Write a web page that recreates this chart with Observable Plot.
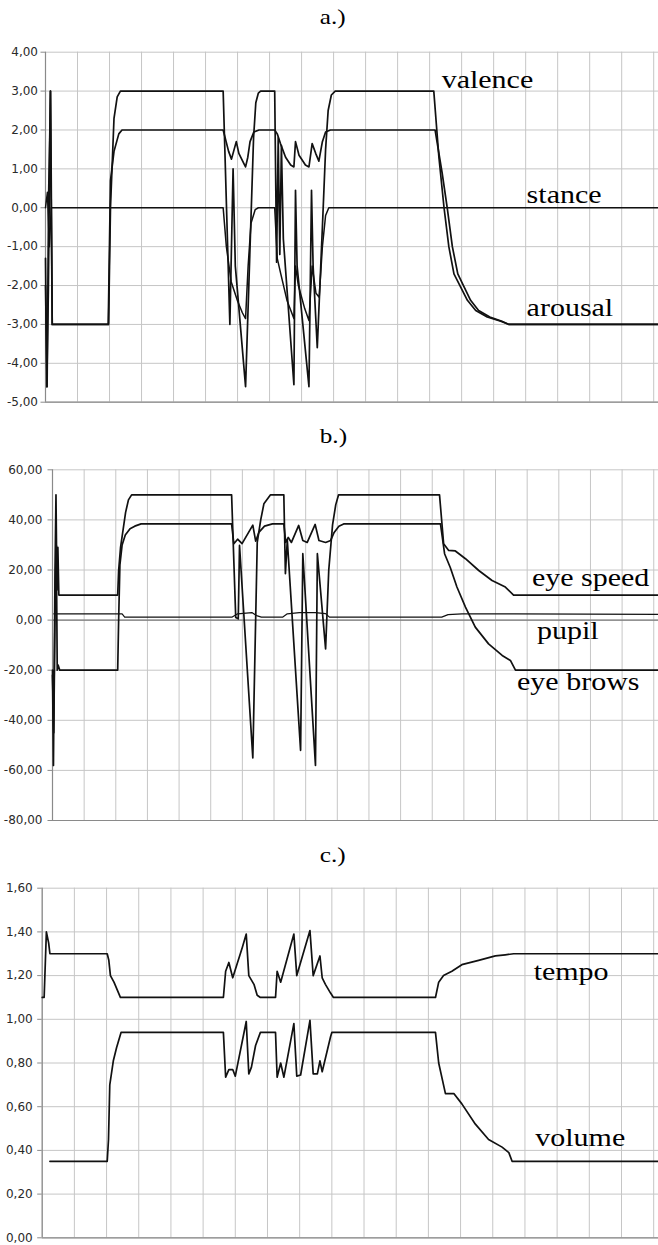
<!DOCTYPE html>
<html><head><meta charset="utf-8">
<script src="https://cdn.jsdelivr.net/npm/d3@7"></script>
<script src="https://cdn.jsdelivr.net/npm/@observablehq/plot@0.6"></script>
<style>
html,body{margin:0;padding:0;background:#fff;}
#root{position:relative;width:658px;height:1245px;overflow:hidden;background:#fff;}
.title{position:absolute;left:4px;width:658px;text-align:center;font-family:"Liberation Serif",serif;font-size:21px;line-height:21px;color:#000;}
.title span{display:inline-block;transform:scaleX(1.2);}
.panel{position:absolute;left:0;}
</style></head><body><div id="root"></div>
<script>
// ---------- shared ----------
const xGrid = [0,10,20,30,40,50,60,70,80,90,100,110,120,130,140,150,160,170,180,190];
const xDomain = [0, 191.5];

// ---------- panel a ----------
const aTicks = [-5,-4,-3,-2,-1,0,1,2,3,4];
const valenceT = [0,0.5,1.0,1.6,2.1,19.7,20.3,21.4,22.4,23.4,55.5,57.6,58.6,59.3,62.5,65.0,65.7,66.5,67.2,71.6,72.2,72.7,73.2,73.7,74.3,77.6,78.1,78.6,82.3,83.1,83.6,84.9,86.5,87.5,88.3,89.3,90.5,121.3,122.9,124.5,126.0,127.6,129.7,131.8,134.4,138.0,142.2,144.8,191.5];
const valenceV = [-2.0,-4.6,0.45,3.0,-3.0,-3.0,0.0,2.3,2.85,3.0,3.0,-3.0,1.0,-1.5,-4.6,1.8,2.7,2.95,3.0,3.0,-1.4,1.8,-1.2,1.6,-0.8,-4.55,0.45,-1.5,-4.6,0.45,-1.5,-3.6,-0.5,1.5,2.5,2.9,3.0,3.0,1.3,0.0,-1.0,-1.7,-2.04,-2.38,-2.64,-2.81,-2.92,-3.0,-3.0];
const arousalT = [0,0.4,0.9,1.5,2.1,19.6,20.3,21.4,22.9,23.9,55.5,57.2,58.1,59.6,60.4,61.9,62.5,63.2,63.9,65.1,66.7,71.6,72.4,73.4,75.0,76.6,77.6,78.1,79.2,81.2,82.3,83.3,84.4,85.4,86.5,87.5,89.0,121.7,123.9,125.5,127.1,128.8,130.8,132.8,135.3,138.8,142.6,144.8,191.5];
const arousalV = [-1.3,-4.6,-2.1,3.0,-3.0,-3.0,0.7,1.45,1.9,2.0,2.0,1.45,1.25,1.7,1.4,1.15,1.05,1.3,1.7,1.95,2.0,2.0,1.9,1.65,1.3,1.1,1.05,1.7,1.35,1.1,1.05,1.65,1.4,1.2,1.7,1.95,2.0,2.0,0.9,0.0,-1.0,-1.7,-2.04,-2.38,-2.64,-2.81,-2.92,-3.0,-3.0];
const stanceT = [0,0.6,1.2,1.8,55.5,56.5,58.0,60.0,61.5,62.5,63.3,64.2,65.5,66.5,71.6,72.4,73.5,75.5,77.6,78.1,79.0,81.0,82.3,83.3,84.5,85.5,86.5,87.5,88.5,191.5];
const stanceV = [0,0.4,-1.0,0,0,-1.0,-1.9,-2.4,-2.7,-2.85,-1.5,-0.4,-0.05,0,0,-1.3,-1.7,-2.4,-2.85,-1.5,-2.0,-2.6,-2.9,-1.5,-2.2,-2.3,-1.0,-0.2,0,0];
const aLabels = ["valence","stance","arousal"];
const aLabelX = [123.75,150.3,150.3];
const aLabelY = [3.07,0.11,-2.79];

// ---------- panel b ----------
const bTicks = [-80,-60,-40,-20,0,20,40,60];
const eyeSpeedT = [0,0.3,0.8,1.1,1.4,1.7,2.0,20.6,20.9,21.5,23.1,24.0,25.0,56.6,57.9,58.7,59.1,63.3,64.7,65.8,66.8,68.9,73.1,73.6,74.2,78.4,79.1,83.1,83.7,86.3,87.3,88.5,89.5,90.4,122.3,123.6,125.2,127.3,130.5,134.7,138.9,143.1,145.7,191.5];
const eyeSpeedV = [-20,-58,20,50,12,29,10,10,19.8,29,43,48,50,50,1,0.5,29.8,-55,31,40,46.4,50,50,18.5,32,-52,26.5,-58,26.5,-11.5,20,38,46,50,50,30.5,27.8,27.6,24.5,19.8,15.8,13.2,10,10];
const eyeBrowsT = [0,0.4,0.9,1.2,1.5,1.8,2.3,20.6,20.9,21.3,22.0,23.0,24.5,26.0,28.0,56.6,57.3,58.5,59.9,63.3,64.2,65.2,67.0,69.5,73.1,73.7,74.5,75.5,77.8,79.1,80.5,83.0,84.2,86.3,87.9,89.0,90.5,92.0,122.6,123.9,125.7,127.8,130.5,133.6,137.8,142.1,144.7,146.3,191.5];
const eyeBrowsV = [-22,-45,15,30,-20,-18,-20,-20,0,22,30,34,36.5,37.5,38.4,38.4,30.5,32.3,30.5,37.9,31.5,35,37.5,38.4,38.4,31,33,31,37.8,31.8,31,38.2,31.8,31,31.8,35,37.5,38.4,38.4,26.5,21,13.2,5.2,-2.8,-9.5,-14.1,-16.1,-20,-20];
const pupilT = [0.4,22.0,22.8,56.8,58.5,63.0,64.5,66.0,72.8,74.2,78.0,83.0,86.3,87.5,123.0,125.0,129.4,146.0,191.5];
const pupilV = [2.5,2.5,1.2,1.2,2.5,3.0,1.8,1.2,1.2,2.5,3.0,3.0,2.6,1.2,1.2,2.2,2.5,2.5,2.3];
const bLabels = ["eye speed","pupil","eye brows"];
const bLabelX = [151.5,153.1,146.8];
const bLabelY = [13.8,-7.5,-28.1];

// ---------- panel c ----------
const cTicks = [0,0.2,0.4,0.6,0.8,1.0,1.2,1.4,1.6];
const tempoT = [0,0.6,1.3,2.0,2.4,20.2,20.7,21.2,22.3,24.3,56.3,57.0,58.0,59.2,62.2,63.4,64.2,65.8,66.8,67.8,72.5,73.0,74.1,78.2,79.1,83.2,84.2,86.3,87.0,88.0,89.6,90.5,122.2,123.2,124.7,127.3,130.4,135.6,140.8,143.9,146.5,191.5];
const tempoV = [1.10,1.10,1.40,1.35,1.30,1.30,1.27,1.20,1.17,1.10,1.10,1.22,1.26,1.19,1.33,1.39,1.20,1.16,1.11,1.10,1.10,1.22,1.17,1.39,1.20,1.406,1.20,1.29,1.19,1.16,1.12,1.10,1.10,1.17,1.20,1.22,1.25,1.27,1.29,1.295,1.30,1.30];
const volumeT = [2.4,20.2,20.6,21.0,22.1,23.1,24.5,56.3,57.0,58.0,59.2,60.0,63.4,64.2,65.0,66.3,67.8,72.5,73.0,74.1,75.1,78.2,79.1,80.3,83.2,84.2,85.5,86.3,87.0,89.6,90.0,122.2,123.2,125.3,127.9,130.4,134.6,138.7,142.9,145.0,146.0,191.5];
const volumeV = [0.35,0.35,0.45,0.70,0.81,0.87,0.94,0.94,0.735,0.77,0.77,0.74,0.99,0.75,0.78,0.88,0.94,0.94,0.735,0.80,0.735,0.98,0.74,0.745,0.995,0.75,0.75,0.81,0.76,0.92,0.94,0.94,0.80,0.66,0.66,0.613,0.52,0.45,0.415,0.39,0.35,0.35];
const cLabels = ["tempo","volume"];
const cLabelX = [152.7,153.2];
const cLabelY = [1.178,0.422];

// ---------- rendering ----------
const root = document.getElementById("root");
const fmt = d => d.toFixed(2).replace(".", ",");
const toRows = (T, V) => T.map((t, i) => ({t, v: V[i]}));
const toLabels = (L, X, Y) => L.map((s, i) => ({s, x: X[i], y: Y[i]}));

function addTitle(text, top) {
  const d = document.createElement("div");
  d.className = "title";
  d.style.top = top + "px";
  const s = document.createElement("span");
  s.textContent = text;
  d.appendChild(s);
  root.appendChild(d);
}

function panel({series, ticks, domain, top, height, marginTop, marginBottom, marginLeft, tickPadding, labels, zeroRule}) {
  const marks = [
    Plot.gridX(xGrid, {stroke: "#c6c6c6", strokeOpacity: 1, strokeWidth: 1}),
    Plot.gridY(ticks, {stroke: "#c6c6c6", strokeOpacity: 1, strokeWidth: 1}),
    Plot.ruleY([domain[0]], {stroke: "#8a8a8a", strokeWidth: 1.2}),
    Plot.ruleX([0], {stroke: "#8a8a8a", strokeWidth: 1.2}),
    Plot.axisY(ticks, {tickSize: 4.5, tickPadding, tickFormat: fmt, stroke: "#8a8a8a", fill: "#2a2a2a", fontSize: 12, fontFamily: "DejaVu Sans"})
  ];
  if (zeroRule) marks.push(Plot.ruleY([0], {stroke: "#7a7a7a", strokeWidth: 1.2}));
  for (const s of series) {
    marks.push(Plot.line(toRows(s.t, s.v), {x: "t", y: "v", stroke: "#111", strokeWidth: s.w, strokeLinejoin: "round"}));
  }
  marks.push(Plot.text(labels, {x: "x", y: "y", text: "s", textAnchor: "start", lineAnchor: "bottom", fontFamily: "Liberation Serif", fontSize: 25, fill: "#000"}));
  const svg = Plot.plot({
    width: 658, height, marginTop, marginBottom, marginLeft, marginRight: 0,
    x: {domain: xDomain, axis: null},
    y: {domain, axis: null},
    style: {background: "transparent", overflow: "visible"},
    marks
  });
  svg.classList.add("panel");
  svg.style.top = top + "px";
  root.appendChild(svg);
  svg.querySelectorAll('g[aria-label="text"] text').forEach(t => {
    const w = t.getComputedTextLength();
    t.setAttribute("textLength", (w * 1.2).toFixed(1));
    t.setAttribute("lengthAdjust", "spacingAndGlyphs");
  });
}

addTitle("a.)", 6.5);
panel({
  series: [
    {t: stanceT, v: stanceV, w: 1.5},
    {t: arousalT, v: arousalV, w: 1.7},
    {t: valenceT, v: valenceV, w: 1.7}
  ],
  ticks: aTicks, domain: [-5, 4], top: 40, height: 372, marginTop: 11.7, marginBottom: 10.3, marginLeft: 45, tickPadding: 3,
  labels: toLabels(aLabels, aLabelX, aLabelY)
});

addTitle("b.)", 425.5);
panel({
  series: [
    {t: pupilT, v: pupilV, w: 1.2},
    {t: eyeBrowsT, v: eyeBrowsV, w: 1.7},
    {t: eyeSpeedT, v: eyeSpeedV, w: 1.7}
  ],
  ticks: bTicks, domain: [-80, 60], top: 458, height: 372, marginTop: 11.3, marginBottom: 10, marginLeft: 52, tickPadding: 5.5,
  labels: toLabels(bLabels, bLabelX, bLabelY), zeroRule: true
});

addTitle("c.)", 844.5);
panel({
  series: [
    {t: tempoT, v: tempoV, w: 1.7},
    {t: volumeT, v: volumeV, w: 1.7}
  ],
  ticks: cTicks, domain: [0, 1.6], top: 876, height: 369, marginTop: 11.7, marginBottom: 7.7, marginLeft: 41.7, tickPadding: 5,
  labels: toLabels(cLabels, cLabelX, cLabelY)
});
</script></body></html>
